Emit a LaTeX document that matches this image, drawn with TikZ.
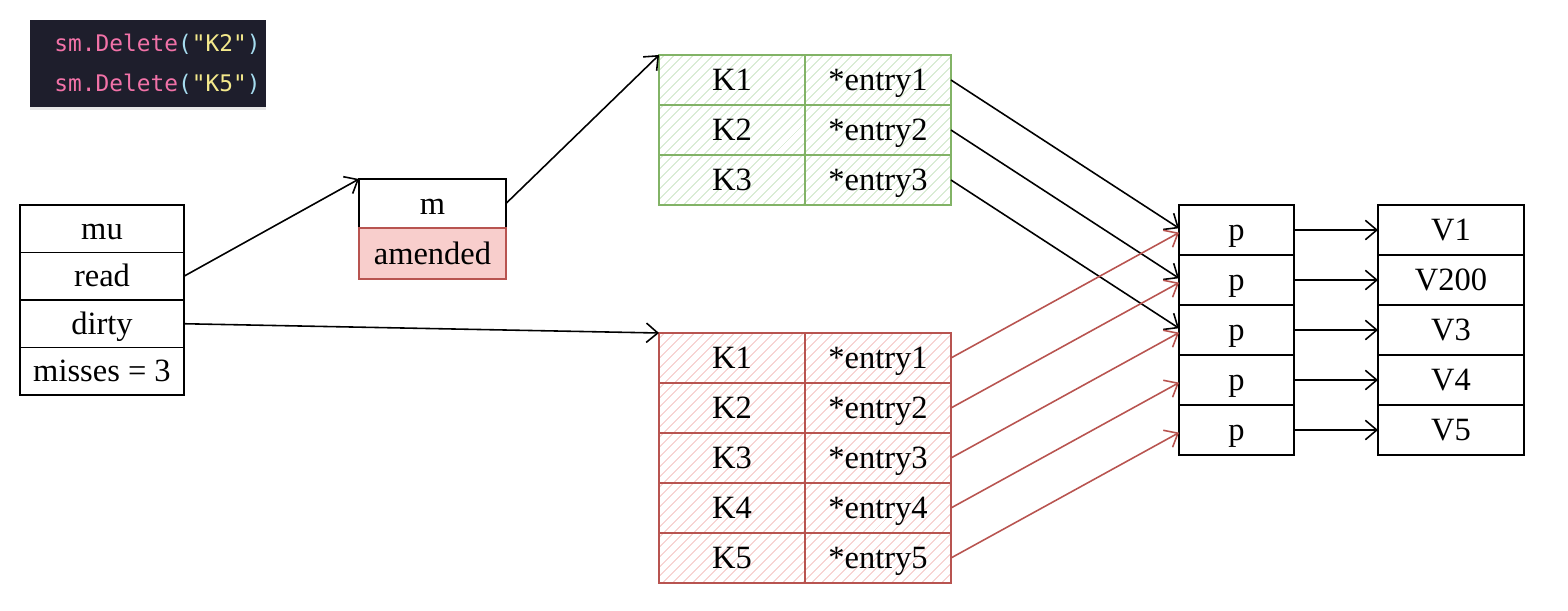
\documentclass[tikz,border=0pt]{standalone}
\usepackage{fontspec}
\setmainfont{Liberation Serif}
\setmonofont{DejaVu Sans Mono}
\usetikzlibrary{positioning, arrows.meta, patterns.meta, shadows}
\definecolor{codebg}{HTML}{1E1E2C}
\definecolor{codepink}{HTML}{F272A8}
\definecolor{codeyellow}{HTML}{F4E98C}
\definecolor{codecyan}{HTML}{A6DCEF}
\definecolor{greenline}{HTML}{82B366}
\definecolor{greenhatch}{HTML}{C6E2BE}
\definecolor{redline}{HTML}{B85450}
\definecolor{redhatch}{HTML}{F2BDBB}
\definecolor{redfill}{HTML}{F8CECC}
\tikzset{
  >={Straight Barb[length=6.5pt,width=11pt]},
  every node/.style={font=\fontsize{18.5}{22}\selectfont},
  box/.style={draw, line width=1.1pt, inner sep=0pt, outer sep=0pt,
    text height=12.2pt, text depth=0pt},
  fld/.style={box, minimum width=3.28cm, minimum height=0.95cm},
  mbox/.style={box, minimum width=2.94cm, minimum height=0.98cm},
  pbox/.style={box, minimum width=2.3cm, minimum height=1cm},
  vbox/.style={box, minimum width=2.92cm, minimum height=1cm},
  gcell/.style={box, draw=greenline, line width=1.4pt,
    minimum width=2.92cm, minimum height=1cm,
    pattern={Lines[angle=45,distance=4pt,line width=0.45pt]}, pattern color=greenhatch},
  rcell/.style={gcell, draw=redline, pattern color=redhatch},
  link/.style={->, line width=0.9pt},
  rlink/.style={link, draw=redline},
  codebox/.style={fill=codebg, inner sep=0pt, text width=4.72cm, minimum height=1.74cm,
    align=left, font=\ttfamily\fontsize{13}{22.7}\selectfont,
    drop shadow={opacity=0.18, shadow xshift=0pt, shadow yshift=-1.5pt}},
}
\begin{document}
\begin{tikzpicture}[x=0.02cm, y=-0.02cm]
  \useasboundingbox (0,0) rectangle (1568,610);

  % code snippet
  \node[codebox, anchor=north west] (code) at (30,20)
    {\hspace*{0.48cm}\textcolor{codepink}{sm.Delete}\textcolor{codecyan}{(}\textcolor{codeyellow}{"K2"}\textcolor{codecyan}{)}\\
     \hspace*{0.48cm}\textcolor{codepink}{sm.Delete}\textcolor{codecyan}{(}\textcolor{codeyellow}{"K5"}\textcolor{codecyan}{)}};

  % sync.Map fields
  \node[fld, anchor=north west] (mu) at (20,205) {mu};
  \node[fld, below=0pt of mu] (read) {read};
  \node[fld, below=0pt of read] (dirty) {dirty};
  \node[fld, below=0pt of dirty] (misses) {misses = 3};

  % readOnly
  \node[mbox, anchor=north west] (m) at (359,179) {m};
  \node[mbox, below=0pt of m, fill=redfill, draw=redline, minimum height=1.02cm] (amended) {amended};

  % read map
  \foreach \i in {1,2,3} {
    \node[gcell, anchor=north west] (gk\i) at (659,{55+50*(\i-1)}) {K\i};
    \node[gcell, right=0pt of gk\i] (ge\i) {*entry\i};
  }

  % dirty map
  \foreach \i in {1,...,5} {
    \node[rcell, anchor=north west] (rk\i) at (659,{333+50*(\i-1)}) {K\i};
    \node[rcell, right=0pt of rk\i] (re\i) {*entry\i};
  }

  % entries and values
  \foreach \i/\v in {1/V1, 2/V200, 3/V3, 4/V4, 5/V5} {
    \node[pbox, anchor=north west] (p\i) at (1179,{205+50*(\i-1)}) {p};
    \node[vbox, anchor=north west] (v\i) at (1378,{205+50*(\i-1)}) {\v};
    \draw[link] (p\i.east) -- (v\i.west);
  }

  \draw[link] (read.east) -- (m.north west);
  \draw[link] (m.east) -- (gk1.north west);
  \draw[link] (dirty.east) -- (rk1.north west);
  \foreach \i in {1,2,3}
    \draw[link] (ge\i.east) -- ([yshift=1pt]p\i.west);
  \foreach \i in {1,...,5}
    \draw[rlink] (re\i.east) -- ([yshift=-1.5pt]p\i.west);
\end{tikzpicture}
\end{document}
